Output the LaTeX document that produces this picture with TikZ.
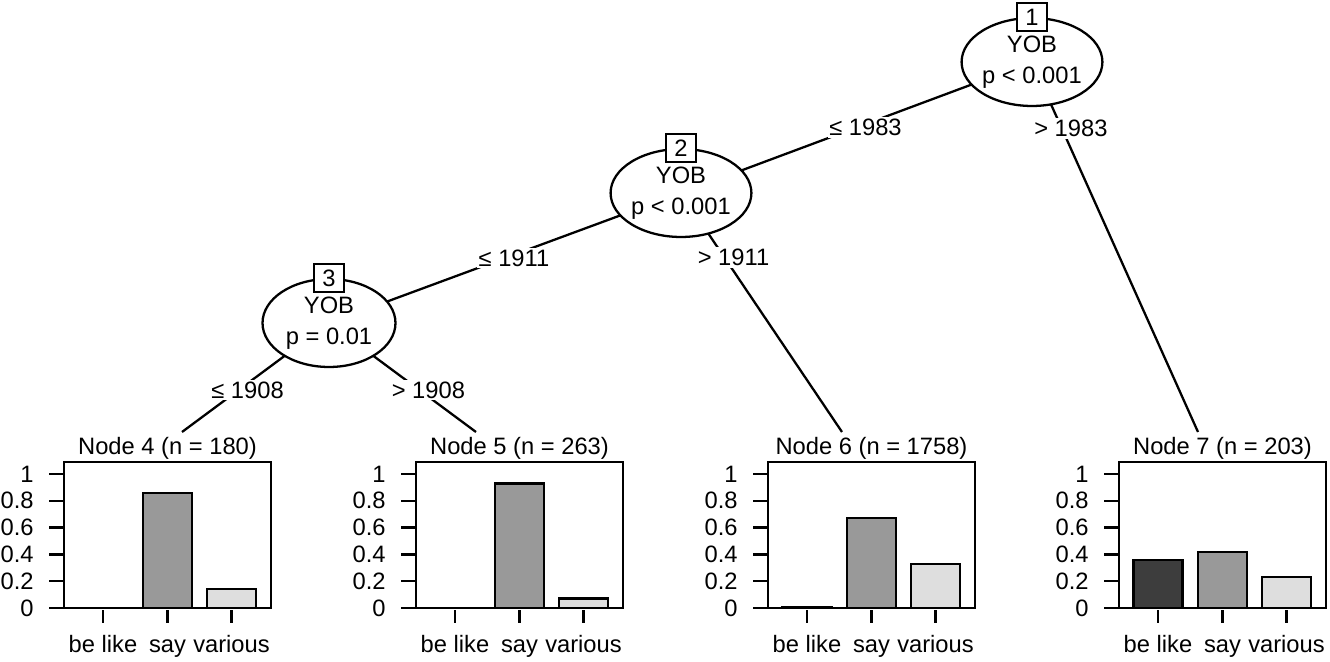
\documentclass[tikz,border=0pt]{standalone}
\usepackage{fontspec}
\setmainfont{Liberation Sans}
\usetikzlibrary{shapes.geometric,backgrounds}

\definecolor{barA}{gray}{0.24}
\definecolor{barB}{gray}{0.60}
\definecolor{barC}{gray}{0.87}

\tikzset{
  every node/.style={font=\fontsize{13.5}{17.5}\selectfont},
  splitnode/.style={ellipse, draw, line width=1.3pt, fill=white,
    minimum width=2.66cm, minimum height=1.76cm, inner sep=0pt, align=center},
  idbox/.style={draw, line width=1.3pt, fill=white, minimum width=0.6cm,
    minimum height=0.56cm, inner sep=0pt},
  branch/.style={line width=1.3pt},
  brlabel/.style={fill=white, inner sep=1pt, xshift=0.18cm},
  panel/.style={line width=1.3pt},
  bar/.style={draw, line width=1.3pt}
}

% one terminal panel: left edge, node number, n, three heights
\newcommand{\termpanel}[6]{%
  \begin{scope}[shift={(#1,0)}]
    \node[anchor=base] (title#2) at (103.5,455) {Node #2 (n = #3)};
    \filldraw[bar, fill=barA] (14.5,608) rectangle (63.5,{608-134*#4});
    \filldraw[bar, fill=barB] (79,608) rectangle (128,{608-134*#5});
    \filldraw[bar, fill=barC] (143,608) rectangle (192,{608-134*#6});
    \draw[panel] (0,462) rectangle (207,608);
    \foreach \v in {0,0.2,0.4,0.6,0.8,1} {
      \draw[panel] (-15,{608-134*\v}) -- (0,{608-134*\v});
      \node[anchor=east, inner sep=0pt] at (-30,{608-134*\v}) {\v};
    }
    \foreach \c/\t in {39/be like,103.5/say,167.5/various} {
      \draw[panel] (\c,610) -- (\c,623);
      \node[anchor=base] at (\c,652) {\t};
    }
  \end{scope}}

\begin{document}
\begin{tikzpicture}[x=0.02cm, y=-0.02cm]
  \useasboundingbox (0,0) rectangle (1330,662);

  % inner nodes
  \node[splitnode] (n1) at (1032,62) {YOB\\p < 0.001};
  \node[splitnode] (n2) at (681,193) {YOB\\p < 0.001};
  \node[splitnode] (n3) at (329,323) {YOB\\p = 0.01};
  \node[idbox] (id1) at (n1.north) {1};
  \node[idbox] (id2) at (n2.north) {2};
  \node[idbox] (id3) at (n3.north) {3};

  % terminal nodes
  \coordinate (t4) at (182,432);
  \coordinate (t5) at (476,432);
  \coordinate (t6) at (842,432);
  \coordinate (t7) at (1198,432);
  \termpanel{64}{4}{180}{0}{0.86}{0.14}
  \termpanel{416}{5}{263}{0}{0.93}{0.07}
  \termpanel{768}{6}{1758}{0.005}{0.67}{0.33}
  \termpanel{1119}{7}{203}{0.36}{0.42}{0.23}

  % branches
  \begin{scope}[on background layer]
    \draw[branch] (n1.center) -- node[brlabel, pos=0.50] (b12) {≤ 1983} (n2.center);
    \draw[branch] (n1.center) -- node[brlabel, pos=0.18] (b17) {> 1983} (t7);
    \draw[branch] (n2.center) -- node[brlabel, pos=0.50] (b23) {≤ 1911} (n3.center);
    \draw[branch] (n2.center) -- node[brlabel, pos=0.27] (b26) {> 1911} (t6);
    \draw[branch] (n3.center) -- node[brlabel, pos=0.615] (b34) {≤ 1908} (t4);
    \draw[branch] (n3.center) -- node[brlabel, pos=0.615] (b35) {> 1908} (t5);
  \end{scope}
\end{tikzpicture}
\end{document}
